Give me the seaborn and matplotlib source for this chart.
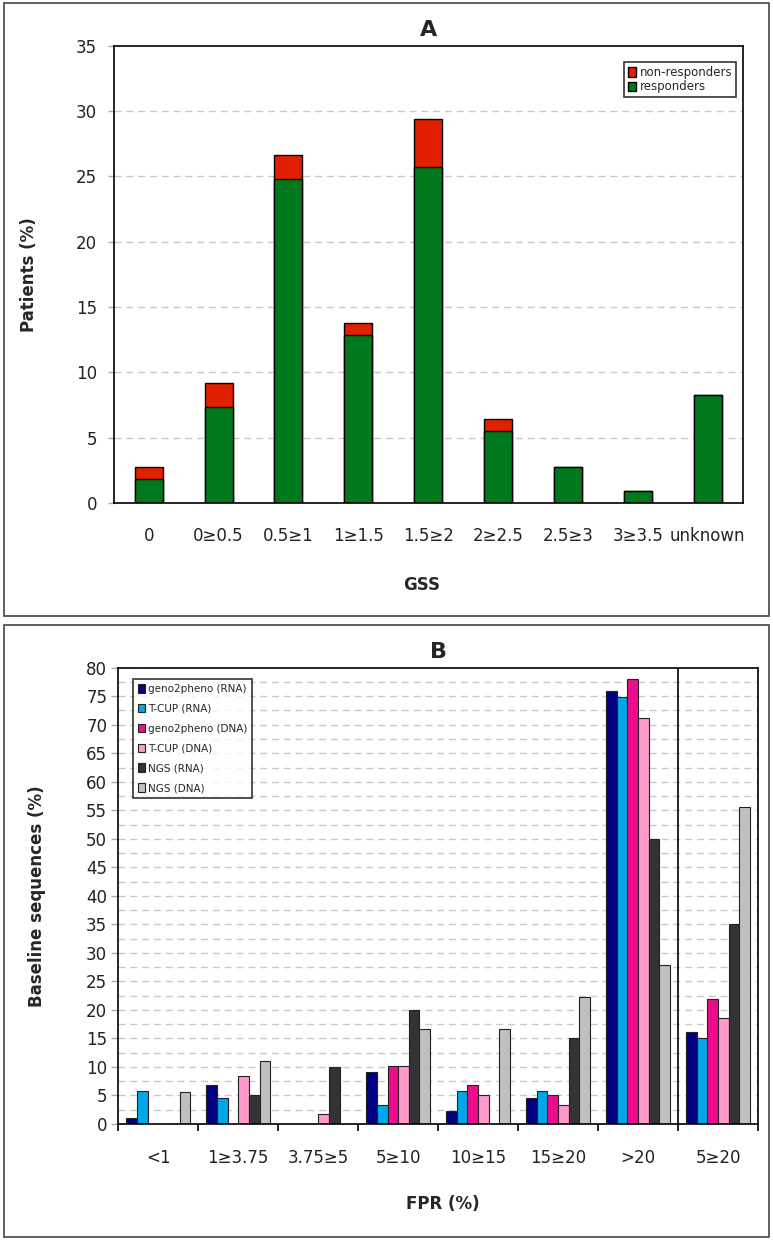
import pandas as pd
import numpy as np
import matplotlib.pyplot as plt
import seaborn as sns
from matplotlib.patches import Patch, Rectangle

sns.set_style("white")
plt.rcParams['font.family'] = ['DejaVu Sans']

# ---------------- data: panel A ----------------
gss_cats = ['0', '0≥0.5', '0.5≥1', '1≥1.5', '1.5≥2', '2≥2.5', '2.5≥3', '3≥3.5', 'unknown']
responders = [1.83, 7.34, 24.77, 12.84, 25.69, 5.50, 2.75, 0.92, 8.26]
non_responders = [0.92, 1.83, 1.83, 0.92, 3.67, 0.92, 0.0, 0.0, 0.0]

# ---------------- data: panel B ----------------
fpr_cats = ['<1', '1≥3.75', '3.75≥5', '5≥10', '10≥15', '15≥20', '>20', '5≥20']
methods = ['geno2pheno (RNA)', 'T-CUP (RNA)', 'geno2pheno (DNA)',
           'T-CUP (DNA)', 'NGS (RNA)', 'NGS (DNA)']
g2p_rna = [1.1, 6.8, 0.0, 9.2, 2.3, 4.6, 75.9, 16.1]
tcup_rna = [5.7, 4.5, 0.0, 3.4, 5.7, 5.7, 74.8, 15.0]
g2p_dna = [0.0, 0.0, 0.0, 10.2, 6.8, 5.1, 78.0, 22.0]
tcup_dna = [0.0, 8.5, 1.7, 10.2, 5.1, 3.4, 71.2, 18.6]
ngs_rna = [0.0, 5.0, 10.0, 20.0, 0.0, 15.0, 50.0, 35.0]
ngs_dna = [5.6, 11.1, 0.0, 16.7, 16.7, 22.2, 27.8, 55.6]

colors_b = ['#000080', '#00A8E8', '#EC0C8C', '#FF99CC', '#333333', '#C0C0C0']
green = '#00781E'
red = '#E02000'

# ---------------- figure ----------------
W, H = 773, 1243
fig = plt.figure(figsize=(W / 100, H / 100), dpi=100)

# panel borders
for y0, y1 in [(3, 616), (625, 1237)]:
    fig.patches.append(Rectangle((4 / W, 1 - y1 / H), 765 / W, (y1 - y0) / H,
                                 transform=fig.transFigure, fill=False,
                                 edgecolor='#444444', linewidth=1.2))

grid_kw = dict(color='#C8C8C8', linestyle=(0, (5, 3.5)), linewidth=1)

# ============================================================
# A
# ============================================================
axA = fig.add_axes([113.7 / W, 1 - 503 / H, 629 / W, 457.3 / H])
dfA = pd.DataFrame({'GSS': gss_cats, 'resp': responders, 'nonresp': non_responders})
dfA['total'] = dfA['resp'] + dfA['nonresp']

sns.barplot(data=dfA, x='GSS', y='total', color=red, saturation=1, width=0.4,
            edgecolor='black', linewidth=1, ax=axA)
sns.barplot(data=dfA, x='GSS', y='resp', color=green, saturation=1, width=0.4,
            edgecolor='black', linewidth=1, ax=axA)

axA.set_ylim(0, 35)
axA.set_xlim(-0.5, len(gss_cats) - 0.5)
axA.set_yticks(range(0, 36, 5))
for v in range(5, 35, 5):
    axA.axhline(v, zorder=0, **grid_kw)
axA.set_axisbelow(True)
axA.tick_params(axis='x', length=0, pad=17, labelsize=12, colors='#222222')
axA.tick_params(axis='y', left=True, length=4, width=1, color='#AAAAAA', pad=8,
                labelsize=12, labelcolor='#222222')
for s in axA.spines.values():
    s.set_color('black')
    s.set_linewidth(1.2)

axA.set_title('A', fontsize=16, fontweight='bold', pad=7)
axA.set_ylabel('Patients (%)', fontsize=12, fontweight='bold')
axA.yaxis.set_label_coords(-0.12, 0.5)
axA.set_xlabel('GSS', fontsize=12, fontweight='bold')
axA.xaxis.set_label_coords(0.49, -0.16)

handlesA = [Patch(facecolor=red, edgecolor='black', label='non-responders'),
            Patch(facecolor=green, edgecolor='black', label='responders')]
legA = axA.legend(handles=handlesA, loc='upper right', bbox_to_anchor=(0.989, 0.964),
                  fontsize=8.5, frameon=True, fancybox=False, edgecolor='black',
                  handlelength=0.7, handleheight=0.9, handletextpad=0.3,
                  labelspacing=0.15, borderpad=0.3, borderaxespad=0)
legA.get_frame().set_linewidth(1.2)

# ============================================================
# B
# ============================================================
axB = fig.add_axes([118.3 / W, 1 - 1124 / H, 639.7 / W, 456.3 / H])
series = [g2p_rna, tcup_rna, g2p_dna, tcup_dna, ngs_rna, ngs_dna]
dfB = pd.concat([pd.DataFrame({'FPR': fpr_cats, 'method': m, 'value': vals})
                 for m, vals in zip(methods, series)], ignore_index=True)

sns.barplot(data=dfB, x='FPR', y='value', hue='method', hue_order=methods,
            palette=dict(zip(methods, colors_b)), saturation=1, width=0.8,
            edgecolor='#222222', linewidth=0.8, ax=axB)

axB.set_ylim(0, 80)
axB.set_xlim(-0.5, len(fpr_cats) - 0.5)
axB.set_yticks(range(0, 81, 5))
for v in np.arange(2.5, 80, 2.5):
    axB.axhline(v, zorder=0, **grid_kw)
axB.set_axisbelow(True)
axB.axvline(len(fpr_cats) - 1.5, color='black', linewidth=1.2)
axB.set_xticks(np.arange(-0.5, len(fpr_cats)), minor=True)
axB.tick_params(axis='x', which='major', length=0, pad=18, labelsize=12, colors='#222222')
axB.tick_params(axis='x', which='minor', bottom=True, length=5, width=1.2, color='black')
axB.tick_params(axis='y', left=True, length=5, width=1, color='#AAAAAA', pad=3,
                labelsize=12, labelcolor='#222222')
for s in axB.spines.values():
    s.set_color('black')
    s.set_linewidth(1.2)

axB.set_title('B', fontsize=16, fontweight='bold', pad=7)
axB.set_ylabel('Baseline sequences (%)', fontsize=12, fontweight='bold')
axB.yaxis.set_label_coords(-0.113, 0.5)
axB.set_xlabel('FPR (%)', fontsize=12, fontweight='bold')
axB.xaxis.set_label_coords(0.508, -0.155)

handlesB, labelsB = axB.get_legend_handles_labels()
legB = axB.legend(handlesB, labelsB, loc='upper left', bbox_to_anchor=(0.023, 0.975),
                  fontsize=7.5, frameon=True, fancybox=False, edgecolor='black',
                  handlelength=0.7, handleheight=0.9, handletextpad=0.3,
                  labelspacing=0.95, borderpad=0.45, borderaxespad=0)
legB.get_frame().set_linewidth(1.2)

plt.savefig('out.png', dpi=100)
